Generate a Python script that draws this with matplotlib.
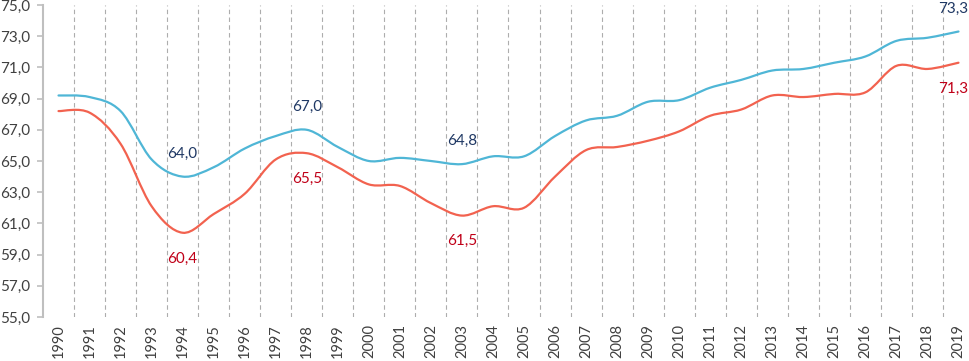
import matplotlib
matplotlib.use("Agg")
import matplotlib.pyplot as plt
from matplotlib.path import Path
from matplotlib.patches import PathPatch
import numpy as np

years = [str(y) for y in range(1990, 2020)]
blue_values = [69.2, 69.1, 68.2, 65.1, 64.0, 64.6, 65.8, 66.6, 67.0, 65.9,
               65.0, 65.2, 65.0, 64.8, 65.3, 65.3, 66.6, 67.6, 67.9, 68.8,
               68.9, 69.7, 70.2, 70.8, 70.9, 71.3, 71.7, 72.7, 72.9, 73.3]
red_values = [68.2, 68.1, 66.1, 62.1, 60.4, 61.6, 62.9, 65.1, 65.5, 64.6,
              63.5, 63.4, 62.3, 61.5, 62.1, 62.0, 64.0, 65.7, 65.9, 66.3,
              66.9, 67.9, 68.3, 69.2, 69.1, 69.3, 69.4, 71.1, 70.9, 71.3]
blue_labels = {4: "64,0", 8: "67,0", 13: "64,8", 29: "73,3"}
red_labels = {4: "60,4", 8: "65,5", 13: "61,5", 29: "71,3"}
y_ticks = [55, 57, 59, 61, 63, 65, 67, 69, 71, 73, 75]

plt.rcParams['font.family'] = ['Lato', 'DejaVu Sans']

BLUE = "#4FB6D6"
RED = "#F2624F"
BLUE_TXT = "#1F3864"
RED_TXT = "#C00018"
TXT = "#404040"

fig = plt.figure(figsize=(9.7, 3.61), dpi=100)
ax = fig.add_axes([43 / 970, 44 / 361, 931 / 970, 312 / 361])


def smooth_path(xs, ys):
    pts = np.column_stack([xs, ys]).astype(float)
    n = len(pts)
    verts = [pts[0]]
    codes = [Path.MOVETO]
    for i in range(n - 1):
        p0 = pts[i - 1] if i > 0 else pts[i]
        p1 = pts[i]
        p2 = pts[i + 1]
        p3 = pts[i + 2] if i + 2 < n else pts[i + 1]
        c1 = p1 + (p2 - p0) / 6.0
        c2 = p2 - (p3 - p1) / 6.0
        verts += [c1, c2, p2]
        codes += [Path.CURVE4] * 3
    return Path(verts, codes)


x = np.arange(len(years))
for vals, col in [(blue_values, BLUE), (red_values, RED)]:
    ax.add_patch(PathPatch(smooth_path(x, vals), fill=False, edgecolor=col,
                           lw=1.6, transform=ax.transData, zorder=3,
                           capstyle='round', joinstyle='round'))

for i in range(len(years)):
    ax.axvline(i + 0.5, color="#ADADAD", lw=0.8, dashes=(4, 3), zorder=1)

last = len(years) - 1
for labels, vals, col, dy in [(blue_labels, blue_values, BLUE_TXT, 16.5),
                              (red_labels, red_values, RED_TXT, -18.5)]:
    for i, t in labels.items():
        if i == last:
            ax.annotate(t, (x[i], vals[i]), xytext=(7, dy),
                        textcoords='offset points', ha='right', va='center',
                        color=col, fontsize=11)
        else:
            ax.annotate(t, (x[i], vals[i]), xytext=(0, dy),
                        textcoords='offset points', ha='center', va='center',
                        color=col, fontsize=11)

ax.set_xlim(-0.5, len(years) - 0.5)
ax.set_ylim(55, 75)
ax.set_yticks(y_ticks)
ax.set_yticklabels([f"{v:.1f}".replace('.', ',') for v in y_ticks])
ax.set_xticks(x)
ax.set_xticklabels(years, rotation=90, va='top', ha='center')
ax.tick_params(axis='x', length=0, pad=5, labelsize=10.5, labelcolor=TXT)
ax.tick_params(axis='y', length=4, width=1.2, color="#BFBFBF", pad=5,
               labelsize=11, labelcolor=TXT)
for s in ['top', 'right', 'bottom']:
    ax.spines[s].set_visible(False)
ax.spines['left'].set_color("#BFBFBF")
ax.spines['left'].set_linewidth(1.5)
ax.patch.set_alpha(0)

fig.savefig("out.png", dpi=100)
